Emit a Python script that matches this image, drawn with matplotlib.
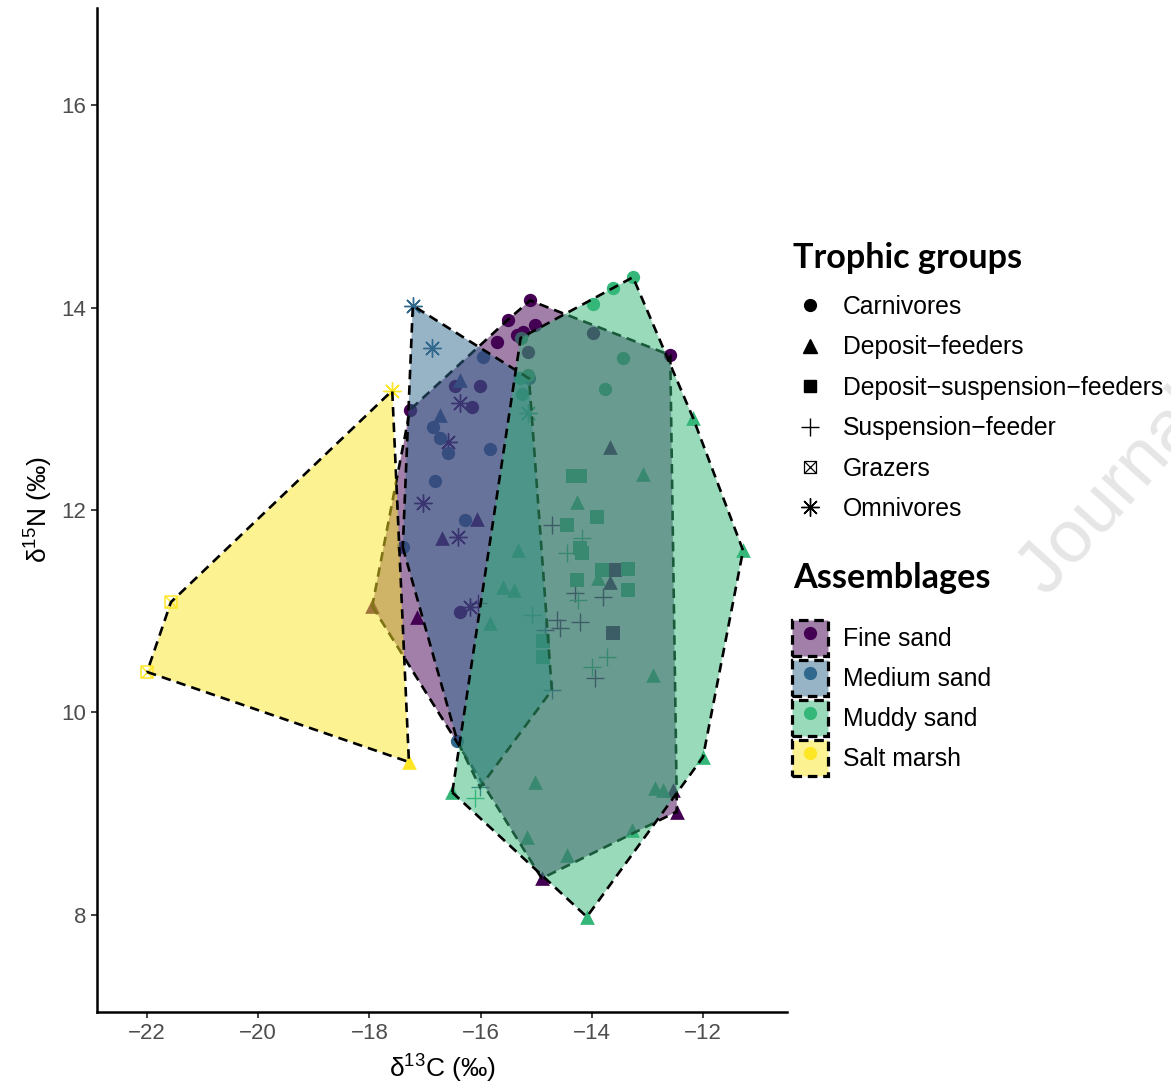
import matplotlib.pyplot as plt
from matplotlib.patches import Polygon, Patch
from matplotlib.lines import Line2D
from matplotlib.legend_handler import HandlerTuple
from matplotlib.colors import to_rgba

plt.rcParams["font.family"] = ["Liberation Sans", "DejaVu Sans"]
plt.rcParams["mathtext.fontset"] = "custom"
plt.rcParams["mathtext.rm"] = "Liberation Sans"
plt.rcParams["mathtext.it"] = "Liberation Sans:italic"

assemblages = ["Fine sand", "Medium sand", "Muddy sand", "Salt marsh"]
colours = ["#440154", "#31688E", "#35B779", "#FDE725"]
trophic_codes = ["C", "D", "DS", "S", "G", "O"]
trophic_labels = ["Carnivores", "Deposit\u2212feeders", "Deposit\u2212suspension\u2212feeders",
                  "Suspension\u2212feeder", "Grazers", "Omnivores"]

# d13C, d15N and trophic group of every sample, one set per assemblage
fine_x = [-15.11, -15.51, -15.71, -15.35, -15.24, -15.02, -12.59, -17.27, -16.46, -16.01, -16.15, -16.37, -13.98, -15.15,
          -16.06, -16.69, -17.14, -17.95, -12.47, -14.90, -13.67, -13.67, -12.54,
          -17.04, -16.41, -16.19, -16.37, -16.59,
          -16.05, -14.30, -13.80, -14.63, -14.21, -14.57, -13.94, -14.72, -14.84,
          -13.58, -13.62]
fine_y = [14.07, 13.88, 13.66, 13.73, 13.76, 13.83, 13.53, 12.99, 13.23, 13.23, 13.02, 10.99, 13.75, 13.56,
          11.91, 11.72, 10.94, 11.05, 9.02, 8.36, 12.62, 11.29, 9.23,
          12.07, 11.73, 11.04, 13.06, 12.67,
          11.08, 11.18, 11.14, 10.91, 10.89, 10.83, 10.34, 11.85, 10.81,
          11.41, 10.78]
fine_t = ["C"] * 14 + ["D"] * 9 + ["O"] * 5 + ["S"] * 9 + ["DS"] * 2

medium_x = [-17.22, -16.87,
            -15.96, -16.86, -16.73, -16.59, -15.83, -16.82, -16.28, -17.40, -15.13, -16.42,
            -16.37, -16.73,
            -14.72, -16.01]
medium_y = [14.02, 13.60,
            13.51, 12.82, 12.71, 12.56, 12.60, 12.29, 11.90, 11.63, 13.30, 9.72,
            13.28, 12.94,
            10.22, 9.26]
medium_t = ["O"] * 2 + ["C"] * 10 + ["D"] * 2 + ["S"] * 2

muddy_x = [-13.98, -13.62, -13.26, -13.44, -13.76, -15.28, -15.15, -15.29, -15.26,
           -13.08, -12.18, -11.28, -12.00, -14.09, -16.51, -15.02, -15.17, -14.45, -13.28, -12.86, -12.72,
           -14.27, -15.33, -15.60, -15.40, -15.83, -13.89, -12.90,
           -15.15,
           -14.34, -14.21, -13.91, -14.45, -14.21, -14.18, -13.82, -13.35, -14.27, -13.35, -14.88, -14.88,
           -14.18, -14.45, -14.25, -15.08, -13.73, -14.00, -16.10]
muddy_y = [14.04, 14.19, 14.30, 13.50, 13.20, 13.70, 13.33, 13.30, 13.15,
           12.36, 12.91, 11.60, 9.56, 7.98, 9.21, 9.31, 8.77, 8.59, 8.84, 9.25, 9.23,
           12.08, 11.60, 11.24, 11.21, 10.88, 11.33, 10.37,
           12.96,
           12.34, 12.34, 11.93, 11.85, 11.62, 11.58, 11.41, 11.42, 11.31, 11.21, 10.71, 10.55,
           11.72, 11.58, 11.11, 10.96, 10.55, 10.45, 9.15]
muddy_t = ["C"] * 9 + ["D"] * 19 + ["O"] + ["DS"] * 12 + ["S"] * 7

salt_x = [-17.59, -21.57, -22.00, -17.29]
salt_y = [13.18, 11.09, 10.40, 9.51]
salt_t = ["O", "G", "G", "D"]

groups = [(fine_x, fine_y, fine_t), (medium_x, medium_y, medium_t),
          (muddy_x, muddy_y, muddy_t), (salt_x, salt_y, salt_t)]

# marker, size, line width for every trophic group
marker_style = {"C": ("o", 92, 0), "D": ("^", 112, 0), "DS": ("s", 88, 0),
                "S": ("+", 150, 1.0), "O": ((8, 2, 0), 160, 1.0)}


def convex_hull(xs, ys):
    pts = sorted(set(zip(xs, ys)))

    def cross(o, a, b):
        return (a[0] - o[0]) * (b[1] - o[1]) - (a[1] - o[1]) * (b[0] - o[0])
    lower, upper = [], []
    for p in pts:
        while len(lower) >= 2 and cross(lower[-2], lower[-1], p) <= 0:
            lower.pop()
        lower.append(p)
    for p in reversed(pts):
        while len(upper) >= 2 and cross(upper[-2], upper[-1], p) <= 0:
            upper.pop()
        upper.append(p)
    return lower[:-1] + upper[:-1]


fig = plt.figure(figsize=(11.71, 10.88), dpi=100)
ax = fig.add_axes([97 / 1171, 76 / 1088, 690 / 1171, 1004 / 1088])

# points first, hulls drawn over them
for (xs, ys, ts), col in zip(groups, colours):
    for code in trophic_codes:
        px = [x for x, t in zip(xs, ts) if t == code]
        py = [y for y, t in zip(ys, ts) if t == code]
        if not px:
            continue
        if code == "G":
            ax.scatter(px, py, marker="s", s=70, facecolors="none", edgecolors=col, linewidths=1.1, zorder=2)
            ax.scatter(px, py, marker="x", s=70, color=col, linewidths=1.1, zorder=2)
        else:
            m, s, lw = marker_style[code]
            ax.scatter(px, py, marker=m, s=s, color=col, linewidths=lw, zorder=2)

for i, ((xs, ys, ts), col) in enumerate(zip(groups, colours)):
    ax.add_patch(Polygon(convex_hull(xs, ys), closed=True, facecolor=to_rgba(col, 0.5),
                         edgecolor="black", linewidth=1.9, linestyle=(0, (3.6, 2.3)), zorder=3 + i))

ax.set_xlim(-22.9, -10.49)
ax.set_ylim(7.04, 16.96)
ax.set_xticks([-22, -20, -18, -16, -14, -12])
ax.set_yticks([8, 10, 12, 14, 16])
for side in ["top", "right"]:
    ax.spines[side].set_visible(False)
for side in ["left", "bottom"]:
    ax.spines[side].set_linewidth(1.8)
ax.tick_params(length=4, width=1.3, color="#333333", labelcolor="#4D4D4D", labelsize=16, pad=4)
ax.set_xlabel(r"δ$^{13}$C (‰)", fontsize=19, labelpad=6)
ax.set_ylabel(r"δ$^{15}$N (‰)", fontsize=19, labelpad=4)

# legends
legend_fs = 17.8
title_font = {"family": "Lato", "weight": "bold", "size": 24.6}

fig.text(793 / 1171, 1 - 258 / 1088, "Trophic groups", ha="left", va="center", fontdict=title_font)
troph_handles = [
    Line2D([], [], marker="o", color="black", ls="", markersize=8.5),
    Line2D([], [], marker="^", color="black", ls="", markersize=9.5),
    Line2D([], [], marker="s", color="black", ls="", markersize=8.5),
    Line2D([], [], marker="+", color="black", ls="", markersize=13, markeredgewidth=1.0),
    (Line2D([], [], marker="s", color="black", ls="", markersize=8.5, markerfacecolor="none", markeredgewidth=0.9),
     Line2D([], [], marker="x", color="black", ls="", markersize=8.5, markeredgewidth=0.9)),
    Line2D([], [], marker=(8, 2, 0), color="black", ls="", markersize=13, markeredgewidth=1.0),
]
fig.legend(troph_handles, trophic_labels, loc="upper left", bbox_to_anchor=(793 / 1171, 1 - 295 / 1088),
           frameon=False, fontsize=legend_fs, handlelength=1.38, handletextpad=0.65, labelspacing=0.664,
           borderpad=0, borderaxespad=0, handler_map={tuple: HandlerTuple(ndivide=1)})

fig.text(793 / 1171, 1 - 578 / 1088, "Assemblages", ha="left", va="center", fontdict=title_font)
assem_handles = [(Patch(facecolor=to_rgba(c, 0.5), edgecolor="black", linewidth=2.3, linestyle=(0, (3.0, 1.8))),
                  Line2D([], [], marker="o", color=c, ls="", markersize=8.5)) for c in colours]
fig.legend(assem_handles, assemblages, loc="upper left", bbox_to_anchor=(792 / 1171, 1 - 620 / 1088),
           frameon=False, fontsize=legend_fs, handlelength=1.46, handleheight=1.865, handletextpad=0.6,
           labelspacing=0.162, borderpad=0, borderaxespad=0, handler_map={tuple: HandlerTuple(ndivide=1)})

fig.text(1047 / 1171, 1 - 598 / 1088, "Journal Pre-proof", rotation=48, rotation_mode="anchor",
         ha="left", va="baseline", fontsize=54, color="#E6E6E6", zorder=0)

fig.savefig("out.png", dpi=100)
